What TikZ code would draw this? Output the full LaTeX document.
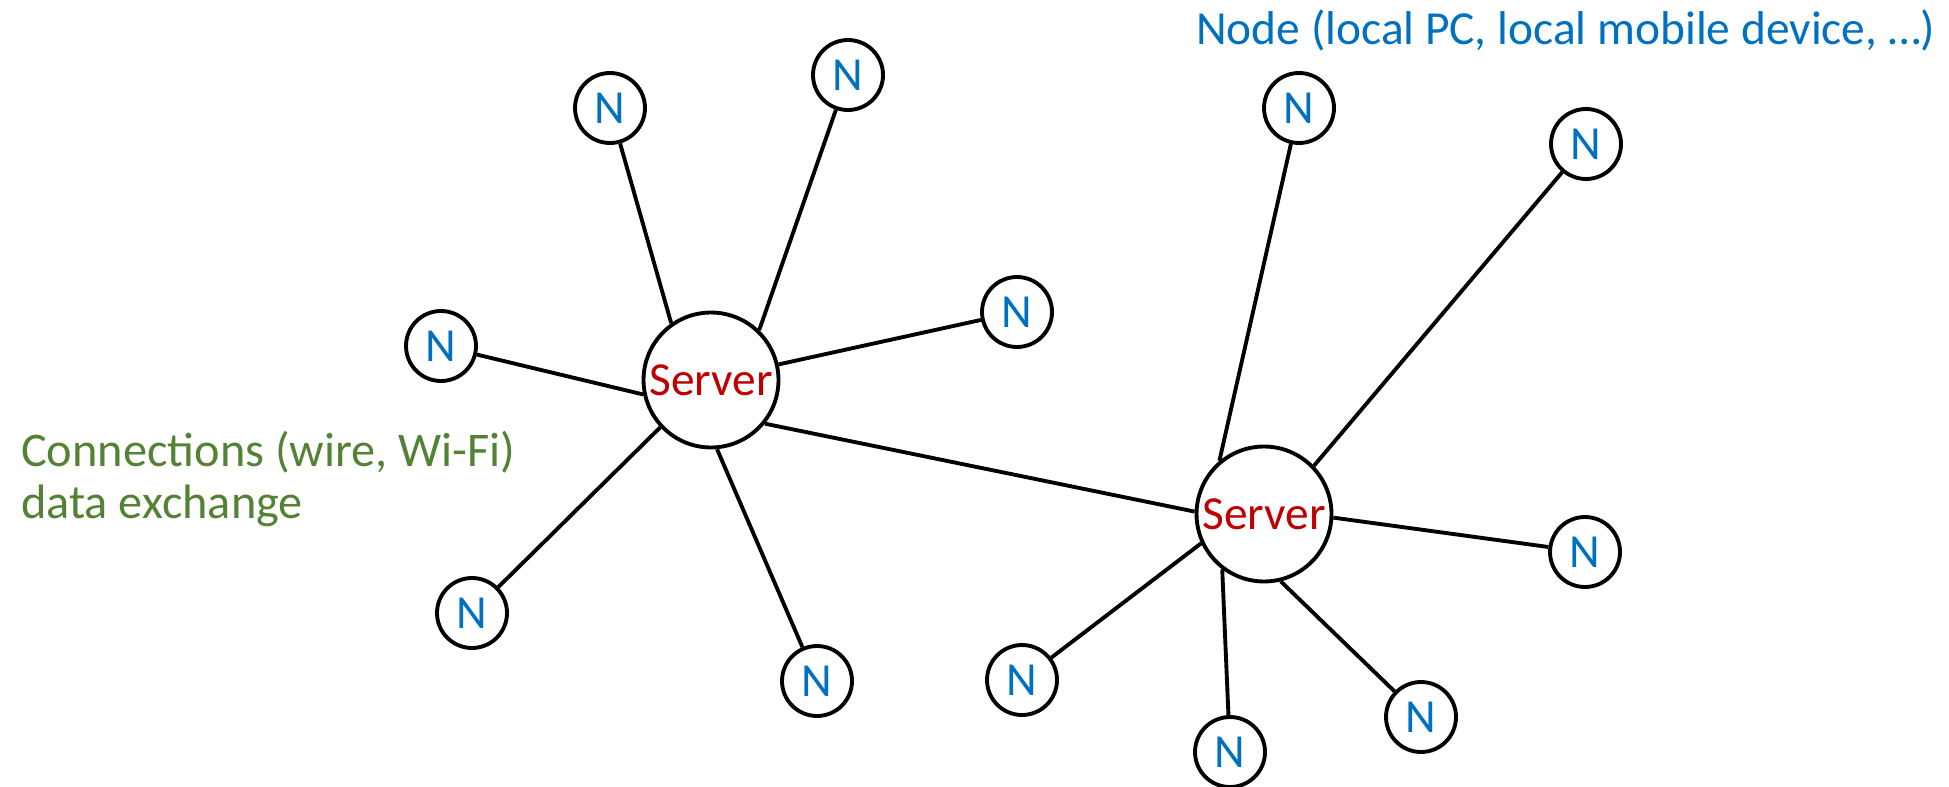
\documentclass[tikz,border=0pt]{standalone}
\usepackage{fontspec}
\setmainfont{Carlito}
\definecolor{nodeblue}{HTML}{0070C0}
\definecolor{linkgreen}{HTML}{548235}
\definecolor{srvred}{HTML}{C00000}
\begin{document}
\begin{tikzpicture}[x=0.02cm,y=-0.02cm,
  pc/.style={circle,draw,line width=2.2pt,fill=white,minimum size=1.4cm,inner sep=0pt,text=nodeblue,font=\fontsize{27}{32}\selectfont},
  srv/.style={circle,draw,line width=2.2pt,fill=white,minimum size=2.7cm,inner sep=0pt,text=srvred,font=\fontsize{27}{32}\selectfont},
  wire/.style={line width=2.2pt}]
\useasboundingbox (0,0) rectangle (1949,787);
\node[srv] (s1) at (711,380) {Server};
\node[srv] (s2) at (1264,514) {Server};
\node[pc] (n1) at (610,108) {N};
\node[pc] (n2) at (848,75) {N};
\node[pc] (n3) at (441,346) {N};
\node[pc] (n4) at (1017,312) {N};
\node[pc] (n5) at (472,613) {N};
\node[pc] (n6) at (817,681) {N};
\node[pc] (n7) at (1299,108) {N};
\node[pc] (n8) at (1586,144) {N};
\node[pc] (n9) at (1585,552) {N};
\node[pc] (n10) at (1421,717) {N};
\node[pc] (n11) at (1230,752) {N};
\node[pc] (n12) at (1022,680) {N};
\draw[wire] (n1) -- (s1.125);
\draw[wire] (n2) -- (s1.46);
\draw[wire] (n3) -- (s1.192);
\draw[wire] (n4) -- (s1.13);
\draw[wire] (n5) -- (s1.223);
\draw[wire] (n6) -- (s1.275);
\draw[wire] (s1.321) -- (s2.178);
\draw[wire] (n7) -- (s2.130);
\draw[wire] (n8) -- (s2.44);
\draw[wire] (n9) -- (s2.357);
\draw[wire] (n10) -- (s2.284);
\draw[wire] (n11) -- (s2.233);
\draw[wire] (n12) -- (s2.205);
\node[anchor=base west,text=nodeblue,font=\fontsize{27}{32}\selectfont] (nodelbl) at (1190,45) {Node (local PC, local mobile device, …)};
\node[anchor=base west,text=linkgreen,font=\fontsize{27.5}{33}\selectfont] (connlbl) at (15,466) {Connections (wire, Wi-Fi)};
\node[anchor=base west,text=linkgreen,font=\fontsize{27.5}{33}\selectfont] (datalbl) at (15,518) {data exchange};
\end{tikzpicture}
\end{document}
